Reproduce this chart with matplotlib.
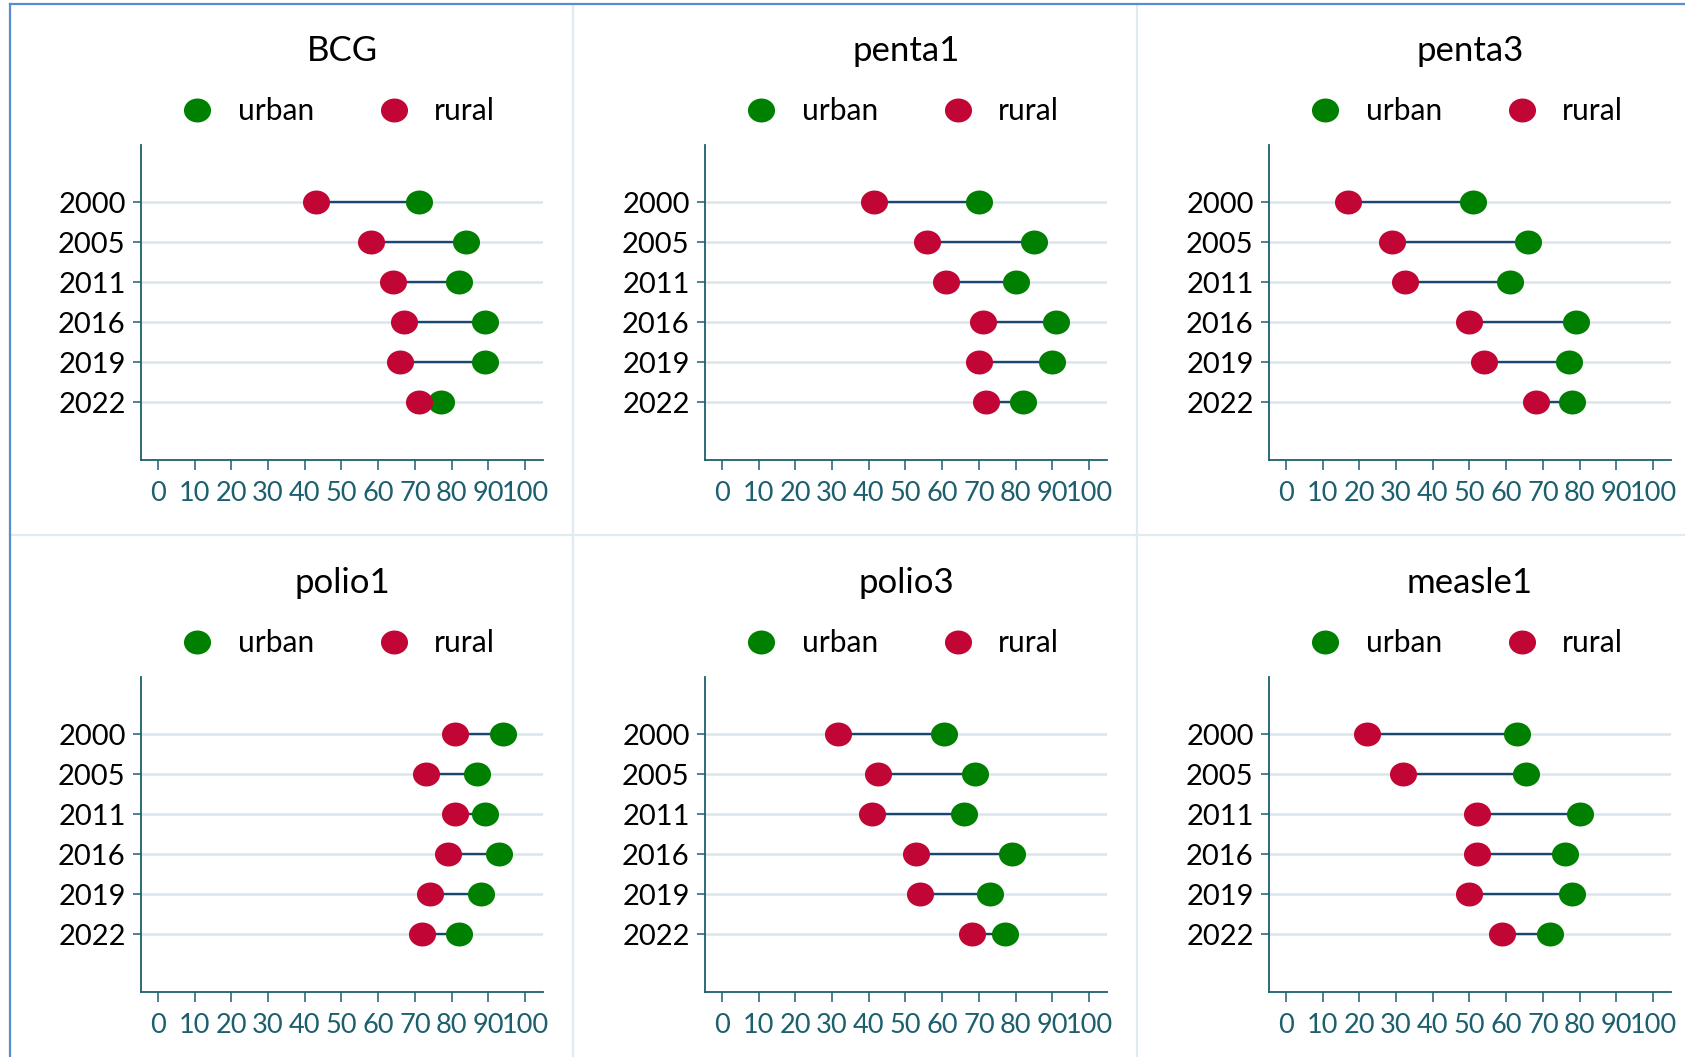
import matplotlib
matplotlib.use('Agg')
import matplotlib.pyplot as plt
from matplotlib.path import Path
from matplotlib.lines import Line2D

plt.rcParams['font.family'] = ['Lato', 'DejaVu Sans']

years = ['2000', '2005', '2011', '2016', '2019', '2022']
vaccines = ['BCG', 'penta1', 'penta3', 'polio1', 'polio3', 'measle1']

bcg_urban = [71, 84, 82, 89, 89, 77]
bcg_rural = [43, 58, 64, 67, 66, 71]
penta1_urban = [70, 85, 80, 91, 90, 82]
penta1_rural = [41.5, 56, 61, 71, 70, 72]
penta3_urban = [51, 66, 61, 79, 77, 78]
penta3_rural = [17, 29, 32.5, 50, 54, 68]
polio1_urban = [94, 87, 89, 93, 88, 82]
polio1_rural = [81, 73, 81, 79, 74, 72]
polio3_urban = [60.5, 69, 66, 79, 73, 77]
polio3_rural = [31.5, 42.5, 41, 53, 54, 68]
measle1_urban = [63, 65.5, 80, 76, 78, 72]
measle1_rural = [22, 32, 52, 52, 50, 59]

urban = [bcg_urban, penta1_urban, penta3_urban, polio1_urban, polio3_urban, measle1_urban]
rural = [bcg_rural, penta1_rural, penta3_rural, polio1_rural, polio3_rural, measle1_rural]

green = '#008000'
red = '#c10534'
navy = '#1a476f'
teal = '#1c5f6e'
grid = '#dae5ec'

# stata-ish oval marker
circ = Path.unit_circle()
oval = Path(circ.vertices * [1.13, 1.0], circ.codes)
ms = 19.5

W, H = 1685, 1057
fig = plt.figure(figsize=(W / 100, H / 100), dpi=100)

def fx(px):
    return px / W

def fy(py):
    return 1 - py / H

for i, name in enumerate(vaccines):
    r, c = divmod(i, 3)
    left = 141 + 564 * c
    top = 145 + 532 * r
    ax = fig.add_axes([fx(left), fy(top + 315), fx(402), 315 / H])
    pos = list(range(len(years)))
    for y in pos:
        ax.axhline(y, color=grid, lw=1.8, zorder=1)
    ax.hlines(pos, rural[i], urban[i], color=navy, lw=1.7, zorder=2)
    ax.plot(urban[i], pos, ls='none', marker=oval, ms=ms, color=green, mec='none', zorder=3)
    ax.plot(rural[i], pos, ls='none', marker=oval, ms=ms, color=red, mec='none', zorder=4)
    ax.set_xlim(-4.6, 104.9)
    ax.set_ylim(5 + 1.45, -1.43)
    ax.set_xticks(range(0, 101, 10))
    ax.set_yticks(pos)
    ax.set_yticklabels(years)
    for s in ['top', 'right']:
        ax.spines[s].set_visible(False)
    for s in ['left', 'bottom']:
        ax.spines[s].set_color(teal)
        ax.spines[s].set_linewidth(1.3)
    ax.tick_params(axis='x', colors=teal, labelsize=19.5, length=7, width=1.1, pad=8)
    ax.tick_params(axis='y', color=teal, labelcolor='black', labelsize=21, length=6, width=1.1, pad=5)

    fig.text(fx(left + 201), fy(51 + 532 * r), name, ha='center', va='center', fontsize=25)
    ly = fy(110 + 532 * r)
    fig.add_artist(Line2D([fx(left + 56)], [ly], marker=oval, ms=ms, color=green, mec='none',
                          transform=fig.transFigure))
    fig.text(fx(left + 97), fy(111 + 532 * r), 'urban', ha='left', va='center', fontsize=21.5)
    fig.add_artist(Line2D([fx(left + 253)], [ly], marker=oval, ms=ms, color=red, mec='none',
                          transform=fig.transFigure))
    fig.text(fx(left + 293), fy(111 + 532 * r), 'rural', ha='left', va='center', fontsize=21.5)

# panel separators
sep = '#e0ebf0'
for x in [573, 1137]:
    fig.add_artist(Line2D([fx(x), fx(x)], [0, fy(4)], color=sep, lw=1.6, transform=fig.transFigure))
fig.add_artist(Line2D([fx(10), 1], [fy(535), fy(535)], color=sep, lw=1.6, transform=fig.transFigure))

# outer border (top and left)
fig.add_artist(Line2D([fx(10), 1], [fy(4), fy(4)], color='#5b8bd0', lw=1.6, transform=fig.transFigure))
fig.add_artist(Line2D([fx(10), fx(10)], [0, fy(4)], color='#5b8bd0', lw=1.6, transform=fig.transFigure))

fig.savefig('out.png', dpi=100, facecolor='white')
